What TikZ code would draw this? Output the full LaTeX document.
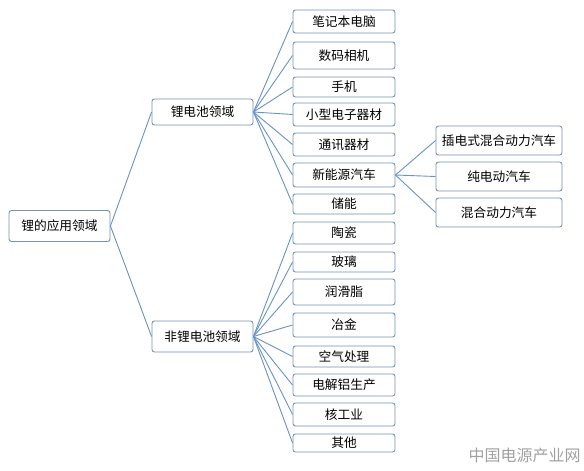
\documentclass[tikz,border=0pt]{standalone}
\usepackage{fontspec}
\usepackage{tikz}
\usetikzlibrary{positioning, calc}
\setmainfont{Noto Sans CJK SC}
\definecolor{linkblue}{RGB}{104,146,196}
\definecolor{boxblue}{RGB}{118,146,182}
\definecolor{markgray}{RGB}{160,160,160}

\begin{document}
\begin{tikzpicture}[
        x=1pt, y=-1pt,
        item/.style={draw=boxblue, line width=0.9pt, rounded corners=2.5pt, fill=white, inner sep=0pt, font=\fontsize{12.7}{14}\selectfont, text=black},
        link/.style={draw=linkblue, line width=0.9pt}
    ]
        \useasboundingbox (0,0) rectangle (584,471);

        % root and the two fields
        \node[item, minimum width=101pt, minimum height=31pt] (root) at (59.5,226) {锂的应用领域};
        \node[item, minimum width=101pt, minimum height=26pt] (bat) at (202.5,112) {锂电池领域};
        \node[item, minimum width=101pt, minimum height=31pt] (nonbat) at (202.5,336.5) {非锂电池领域};

        % battery uses
        \node[item, minimum width=102pt, minimum height=23pt] (laptop) at (344,21.5) {笔记本电脑};
        \node[item, minimum width=102pt, minimum height=27pt] (camera) at (344,55.5) {数码相机};
        \node[item, minimum width=102pt, minimum height=20pt] (phone) at (344,87) {手机};
        \node[item, minimum width=102pt, minimum height=23pt] (gadget) at (344,114.5) {小型电子器材};
        \node[item, minimum width=102pt, minimum height=23pt] (telecom) at (344,144.5) {通讯器材};
        \node[item, minimum width=102pt, minimum height=24pt] (nev) at (344,175) {新能源汽车};
        \node[item, minimum width=102pt, minimum height=20pt] (storage) at (344,204) {储能};

        % other uses
        \node[item, minimum width=102pt, minimum height=22pt] (ceramic) at (344,233) {陶瓷};
        \node[item, minimum width=102pt, minimum height=20pt] (glass) at (344,262) {玻璃};
        \node[item, minimum width=102pt, minimum height=26pt] (grease) at (344,292) {润滑脂};
        \node[item, minimum width=102pt, minimum height=24pt] (metal) at (344,325) {冶金};
        \node[item, minimum width=102pt, minimum height=21pt] (air) at (344,356.5) {空气处理};
        \node[item, minimum width=102pt, minimum height=22pt] (alu) at (344,385) {电解铝生产};
        \node[item, minimum width=102pt, minimum height=23pt] (nuclear) at (344,414.5) {核工业};
        \node[item, minimum width=102pt, minimum height=18pt] (misc) at (344,443) {其他};

        % car types
        \node[item, minimum width=126pt, minimum height=29pt] (phev) at (499,140.5) {插电式混合动力汽车};
        \node[item, minimum width=126pt, minimum height=29pt] (ev) at (499,176.5) {纯电动汽车};
        \node[item, minimum width=126pt, minimum height=29pt] (hev) at (499,212.5) {混合动力汽车};

        \node[font=\fontsize{16}{18}\selectfont, text=markgray, inner sep=0pt] (mark) at (524.5,455) {中国电源产业网};

        \draw[link] (root.east) -- (bat.west);
        \draw[link] (root.east) -- (nonbat.west);
        \foreach \n in {laptop, camera, phone, gadget, telecom, nev, storage}
            \draw[link] (bat.east) -- (\n.west);
        \foreach \n in {ceramic, glass, grease, metal, air, alu, nuclear, misc}
            \draw[link] (nonbat.east) -- (\n.west);
        \foreach \n in {phev, ev, hev}
            \draw[link] (nev.east) -- (\n.west);
    \end{tikzpicture}
\end{document}
